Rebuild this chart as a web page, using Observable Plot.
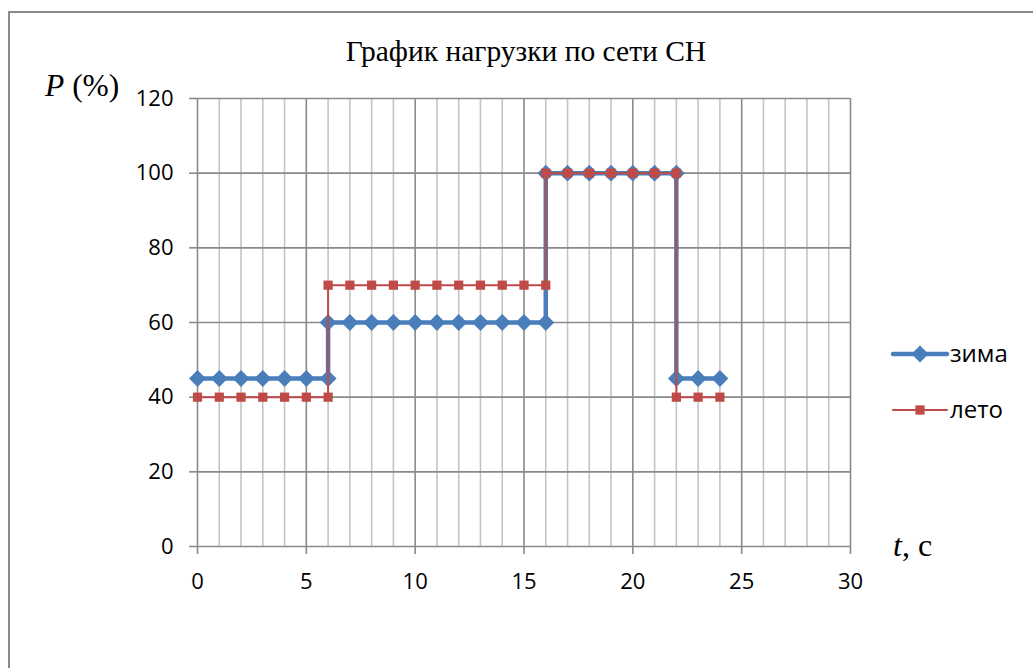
<!DOCTYPE html>
<html>
<head>
<meta charset="utf-8">
<script src="https://cdn.jsdelivr.net/npm/d3@7"></script>
<script src="https://cdn.jsdelivr.net/npm/@observablehq/plot@0.6"></script>
<style>
  html, body { margin: 0; padding: 0; background: #fff; overflow: hidden; }
  #wrap { position: relative; width: 1033px; height: 668px; }
  #frame { position: absolute; left: 8px; top: 11px; width: 1100px; height: 700px;
           border-top: 2px solid #8a8a8a; border-left: 2px solid #8a8a8a; }
  #chart { position: absolute; left: 0; top: 0; }
  #overlay { position: absolute; left: 0; top: 0; pointer-events: none; }
</style>
</head>
<body>
<div id="wrap">
  <div id="frame"></div>
  <div id="chart"></div>
  <svg id="overlay" width="1033" height="668"></svg>
</div>
<script>
// ---- data ----
const titleText = "График нагрузки по сети СН";
const seriesNames = ["зима", "лето"];
const tValues = [0,1,2,3,4,5,6,6,7,8,9,10,11,12,13,14,15,16,16,17,18,19,20,21,22,22,23,24];
const pZima   = [45,45,45,45,45,45,45,60,60,60,60,60,60,60,60,60,60,60,100,100,100,100,100,100,100,45,45,45];
const pLeto   = [40,40,40,40,40,40,40,70,70,70,70,70,70,70,70,70,70,70,100,100,100,100,100,100,100,40,40,40];
const xTicks = [0,5,10,15,20,25,30];
const xMinor = [1,2,3,4,6,7,8,9,11,12,13,14,16,17,18,19,21,22,23,24,26,27,28,29];
const yTicks = [0,20,40,60,80,100,120];

const zima = tValues.map((t, i) => ({t, p: pZima[i]}));
const leto = tValues.map((t, i) => ({t, p: pLeto[i]}));

const BLUE = "#4a7ebb";
const RED = "#be4b48";

const chart = Plot.plot({
  width: 1033,
  height: 668,
  marginLeft: 197,
  marginRight: 183,
  marginTop: 98,
  marginBottom: 122,
  x: {domain: [0, 30]},
  y: {domain: [0, 120]},
  style: {fontFamily: "'Open Sans', sans-serif", fontSize: "22px", color: "#000", background: "transparent"},
  marks: [
    Plot.ruleX(xMinor, {stroke: "#c4c4c4", strokeWidth: 1.6}),
    Plot.ruleX(xTicks, {stroke: "#8a8a8a", strokeWidth: 1.6}),
    Plot.ruleY(yTicks, {stroke: "#8a8a8a", strokeWidth: 1.6}),
    Plot.axisY({ticks: yTicks, tickSize: 8, tickPadding: 16, label: null, stroke: "#8a8a8a", strokeWidth: 1.6}),
    Plot.axisX({ticks: xTicks, tickSize: 8, tickPadding: 19, label: null, stroke: "#8a8a8a", strokeWidth: 1.6}),
    Plot.line(zima, {x: "t", y: "p", stroke: BLUE, strokeWidth: 4.5}),
    Plot.dot(zima, {x: "t", y: "p", symbol: "diamond2", r: 7.6, fill: BLUE, stroke: "none"}),
    Plot.line(leto, {x: "t", y: "p", stroke: RED, strokeWidth: 2}),
    Plot.dot(leto, {x: "t", y: "p", symbol: "square", r: 5.2, fill: RED, stroke: "none"})
  ]
});
document.getElementById("chart").appendChild(chart);

// ---- overlay texts & legend ----
const ov = d3.select("#overlay");
const serif = "'Liberation Serif', 'Times New Roman', serif";
ov.append("text").attr("x", 526).attr("y", 61).attr("text-anchor", "middle")
  .attr("font-family", serif).attr("font-size", 29.5).text(titleText);

const py = ov.append("text").attr("x", 45).attr("y", 96)
  .attr("font-family", serif).attr("font-size", 31.5);
py.append("tspan").attr("font-style", "italic").text("P");
py.append("tspan").text(" (%)");

const tx = ov.append("text").attr("x", 893).attr("y", 556)
  .attr("font-family", serif).attr("font-size", 32);
tx.append("tspan").attr("font-style", "italic").text("t");
tx.append("tspan").text(", с");

// legend
const lg = [
  {name: seriesNames[0], y: 354, color: BLUE, w: 4.5, sym: "diamond"},
  {name: seriesNames[1], y: 410, color: RED, w: 2, sym: "square"}
];
lg.forEach(d => {
  ov.append("line").attr("x1", 893).attr("x2", 947).attr("y1", d.y).attr("y2", d.y)
    .attr("stroke", d.color).attr("stroke-width", d.w).attr("stroke-linecap", "round");
  if (d.sym === "diamond") {
    ov.append("path").attr("d", d3.symbol(d3.symbolDiamond2, 184)()).attr("transform", `translate(920,${d.y})`).attr("fill", d.color);
  } else {
    ov.append("path").attr("d", d3.symbol(d3.symbolSquare, 86)()).attr("transform", `translate(920,${d.y})`).attr("fill", d.color);
  }
  ov.append("text").attr("x", 950).attr("y", d.y + 8).attr("font-family", "'Open Sans', sans-serif")
    .attr("font-size", 24).attr("fill", "#000").text(d.name);
});
</script>
</body>
</html>
